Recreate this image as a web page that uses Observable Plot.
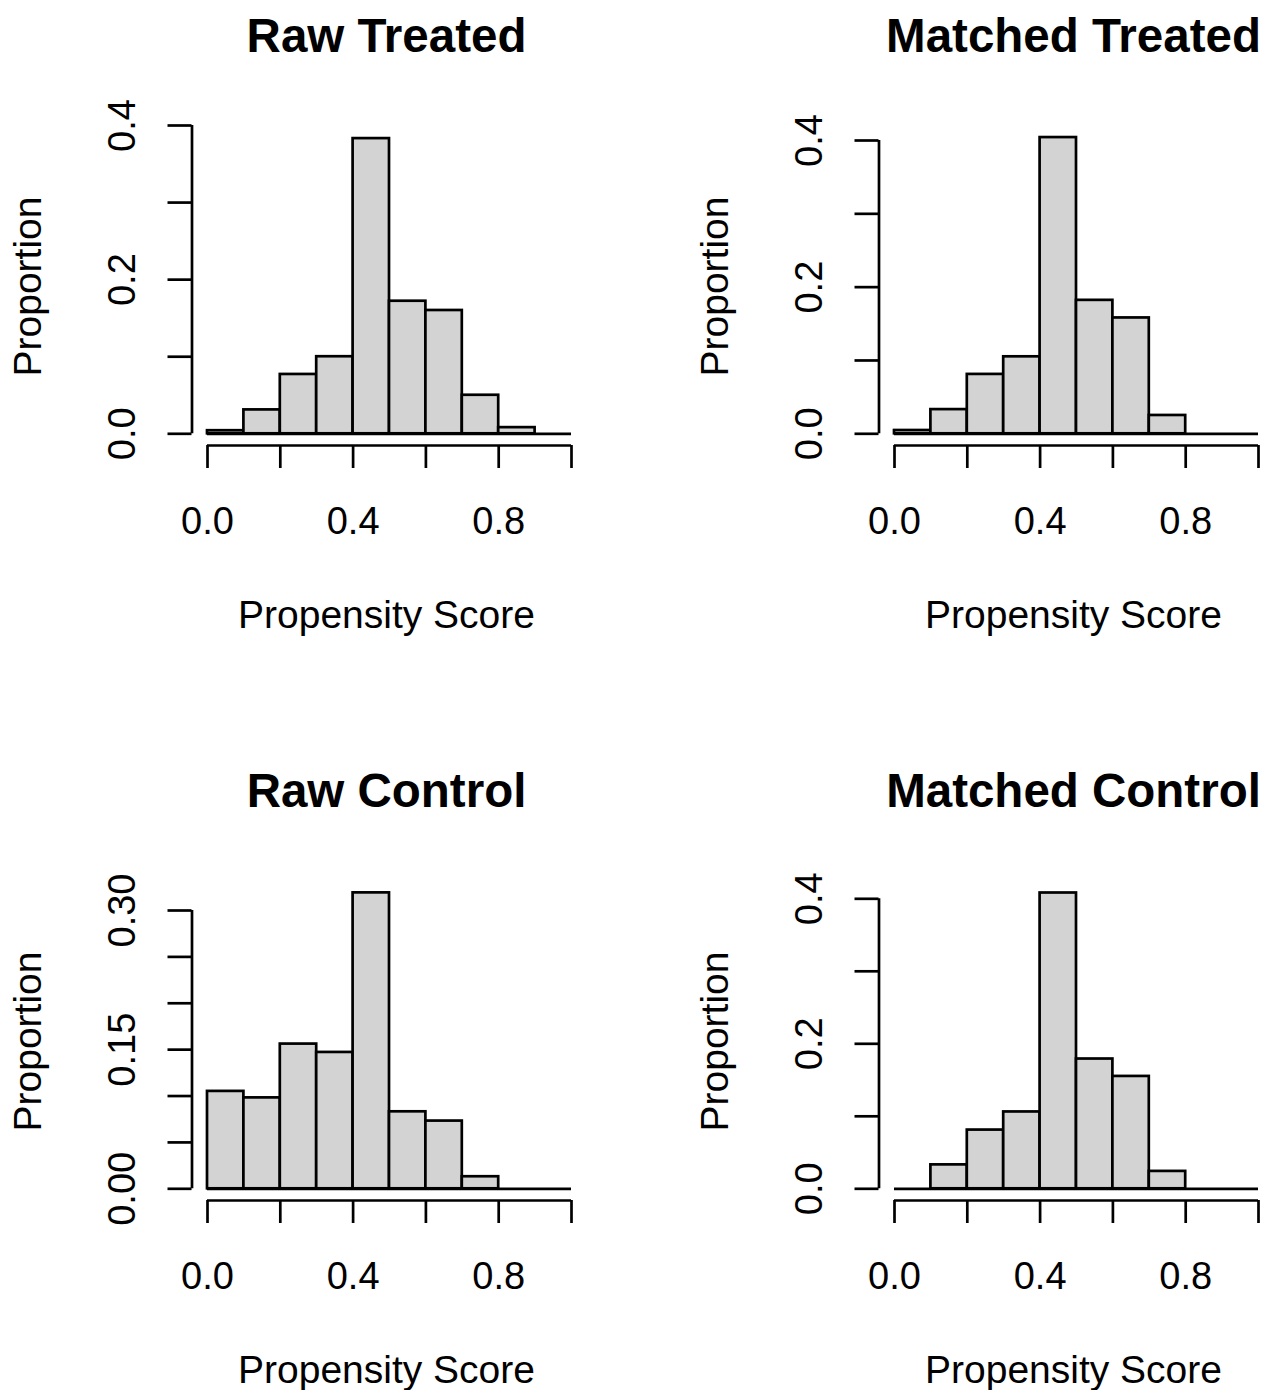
<!DOCTYPE html>
<html>
<head>
<meta charset="utf-8">
<script src="https://cdn.jsdelivr.net/npm/d3@7"></script>
<script src="https://cdn.jsdelivr.net/npm/@observablehq/plot@0.6"></script>
<style>
  html, body { margin: 0; padding: 0; background: #fff; overflow: hidden; }
  #wrap { position: relative; width: 1266px; height: 1390px; overflow: hidden; background: #fff; }
  .cell { position: absolute; width: 687px; height: 755px; }
  .cell svg { display: block; }
</style>
</head>
<body>
<div id="wrap"></div>
<script>
// ---- data ----
const binStarts = [0.0, 0.1, 0.2, 0.3, 0.4, 0.5, 0.6, 0.7, 0.8, 0.9];
const binWidth = 0.1;
const rawTreated     = [0.004, 0.031, 0.077, 0.100, 0.383, 0.172, 0.160, 0.050, 0.008, 0];
const matchedTreated = [0.0045, 0.033, 0.081, 0.105, 0.404, 0.182, 0.158, 0.025, 0, 0];
const rawControl     = [0.105, 0.098, 0.156, 0.147, 0.319, 0.083, 0.073, 0.013, 0, 0];
const matchedControl = [0, 0.033, 0.081, 0.106, 0.408, 0.179, 0.155, 0.024, 0, 0];

const titles = ["Raw Treated", "Matched Treated", "Raw Control", "Matched Control"];
const xLabel = "Propensity Score";
const yLabel = "Proportion";

const xTicks = [0, 0.2, 0.4, 0.6, 0.8, 1.0];
const xTickLabels = [0, 0.4, 0.8];
const yTicksA = [0, 0.1, 0.2, 0.3, 0.4];
const yTickLabelsA = [0, 0.2, 0.4];
const yTicksB = [0, 0.05, 0.10, 0.15, 0.20, 0.25, 0.30];
const yTickLabelsB = [0, 0.15, 0.30];

// ---- layout ----
const panels = [
  {title: titles[0], values: rawTreated,     yTicks: yTicksA, yLabels: yTickLabelsA, fmt: ".1f", left: 0,     top: 0,   yTopPx: 125},
  {title: titles[1], values: matchedTreated, yTicks: yTicksA, yLabels: yTickLabelsA, fmt: ".1f", left: 687.3, top: 0,   yTopPx: 140},
  {title: titles[2], values: rawControl,     yTicks: yTicksB, yLabels: yTickLabelsB, fmt: ".2f", left: 0,     top: 755, yTopPx: 155},
  {title: titles[3], values: matchedControl, yTicks: yTicksA, yLabels: yTickLabelsA, fmt: ".1f", left: 687.3, top: 755, yTopPx: 143.3}
];

const W = 687, H = 755;
const mLeft = 191.5, mRight = 106.5, mTop = 127, mBottom = 310;
const zeroPx = 433.3;
const axisGap = (H - mBottom) - zeroPx; // x axis offset below baseline
const sw = 2.7;
const fsTick = 38;
const fsLab = 39;
const fontFamily = "'Liberation Sans', Arial, Helvetica, sans-serif";
const xfmt = d3.format(".1f");

const wrap = document.getElementById("wrap");

for (const p of panels) {
  const rows = binStarts.map((b, i) => ({x0: b, x1: b + binWidth, v: p.values[i]}));
  const yfmt = d3.format(p.fmt);
  const yMax = p.yTicks[p.yTicks.length - 1];
  const chart = Plot.plot({
    width: W,
    height: H,
    marginLeft: mLeft,
    marginRight: mRight,
    marginTop: mTop,
    marginBottom: mBottom,
    style: {fontFamily, background: "white", color: "black", overflow: "visible"},
    x: {domain: [0, 1], range: [207, 571]},
    y: {domain: [0, yMax], range: [zeroPx, p.yTopPx]},
    marks: [
      Plot.rect(rows, {x1: "x0", x2: "x1", y1: 0, y2: "v", fill: "#d3d3d3", stroke: "black", strokeWidth: sw}),
      Plot.ruleY([0], {x1: xTicks[0], x2: xTicks[xTicks.length - 1], stroke: "black", strokeWidth: sw}),
      // axis lines (R style: from first to last tick, offset from the data region)
      Plot.ruleY([0], {x1: xTicks[0], x2: xTicks[xTicks.length - 1], dy: axisGap, stroke: "black", strokeWidth: sw}),
      Plot.ruleX([0], {y1: p.yTicks[0], y2: yMax, dx: -(207 - mLeft), stroke: "black", strokeWidth: sw}),
      Plot.axisX({ticks: xTicks, tickSize: 23, tickFormat: () => "", label: null, strokeWidth: sw}),
      Plot.axisY({ticks: p.yTicks, tickSize: 24, tickFormat: () => "", label: null, strokeWidth: sw}),
      Plot.text(xTickLabels, {x: d => d, text: d => xfmt(d), frameAnchor: "bottom", dy: 88, lineAnchor: "bottom", textAnchor: "middle", fontSize: fsTick}),
      Plot.text(p.yLabels, {y: d => d, text: d => yfmt(d), frameAnchor: "left", dx: 134 - mLeft, rotate: -90, lineAnchor: "bottom", textAnchor: "middle", fontSize: fsTick}),
      Plot.text([xLabel], {text: d => d, frameAnchor: "bottom", dy: 182, lineAnchor: "bottom", textAnchor: "middle", fontSize: fsLab}),
      Plot.text([yLabel], {text: d => d, frameAnchor: "left", dx: 40 - mLeft, rotate: -90, lineAnchor: "bottom", textAnchor: "middle", fontSize: fsLab}),
      Plot.text([p.title], {text: d => d, frameAnchor: "top", dy: 51 - mTop, lineAnchor: "bottom", textAnchor: "middle", fontSize: 47.5, fontWeight: "bold"})
    ]
  });
  const cell = document.createElement("div");
  cell.className = "cell";
  cell.style.left = p.left + "px";
  cell.style.top = p.top + "px";
  cell.appendChild(chart);
  wrap.appendChild(cell);
}
</script>
</body>
</html>
